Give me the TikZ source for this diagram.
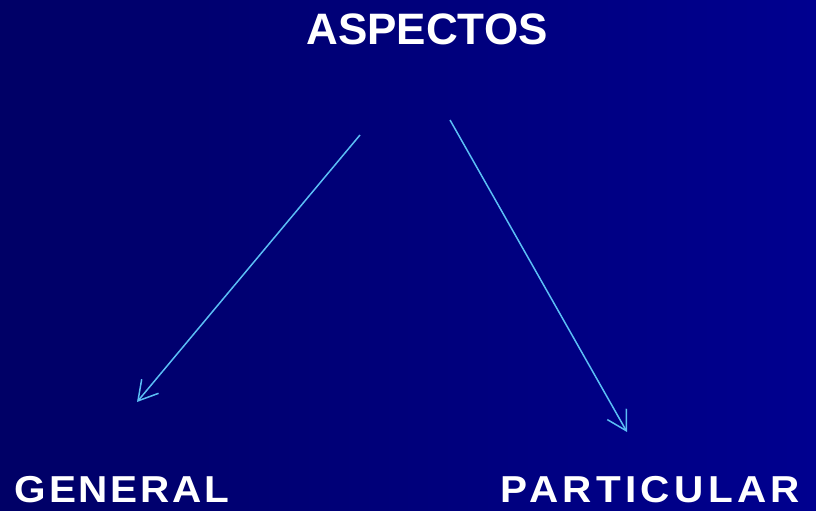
\documentclass[tikz,border=0pt]{standalone}
\usepackage{fontspec}
\setmainfont{Liberation Sans}
\usetikzlibrary{arrows.meta}
\definecolor{bgleft}{HTML}{000066}
\definecolor{bgright}{HTML}{00008F}
\definecolor{arrowblue}{HTML}{5BBEF5}
\tikzset{
  title/.style={text=white, font=\bfseries\fontsize{44}{44}\selectfont, anchor=base, inner sep=0pt},
  leaf/.style={text=white, font=\bfseries\fontsize{37.5}{37.5}\selectfont, anchor=base west, inner sep=0pt, xscale=1.08},
  link/.style={draw=arrowblue, line width=1.5pt, -{Straight Barb[length=19pt,width=22pt,line width=1.5pt]}}
}
\begin{document}
\begin{tikzpicture}[x=1pt,y=-1pt]
  \shade[left color=bgleft, right color=bgright] (0,0) rectangle (816,511);
  \useasboundingbox (0,0) rectangle (816,511);
  \node[title] (aspectos) at (427,45) {ASPECTOS};
  \node[leaf] (general) at (14.5,502.5) {\addfontfeature{LetterSpace=7}GENERAL};
  \node[leaf] (particular) at (500.5,502.5) {\addfontfeature{LetterSpace=10.7}PARTICULAR};
  \coordinate (s1) at (360,135);
  \coordinate (e1) at (137,402);
  \coordinate (s2) at (450,120);
  \coordinate (e2) at (627,432);
  \draw[link] (s1) -- (e1);
  \draw[link] (s2) -- (e2);
\end{tikzpicture}
\end{document}
